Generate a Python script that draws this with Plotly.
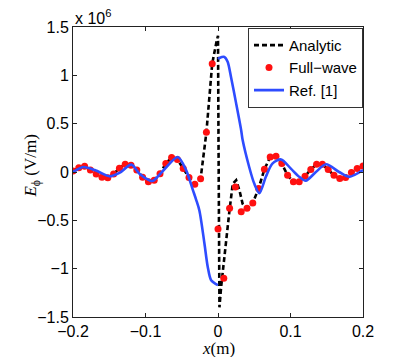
import plotly.graph_objects as go

# E_phi in units of 1e6 V/m, x in m
fw_x = [round(-0.2 + 0.008 * k, 3) for k in range(51)]
fw_y = [0.01, 0.045, 0.06, 0.02, -0.02, -0.055, -0.06, -0.02, 0.04, 0.08,
        0.07, 0.02, -0.055, -0.10, -0.085, -0.017, 0.087, 0.15, 0.13, 0.035,
        -0.058, -0.127, -0.07, 0.41, 1.12, -0.59, -1.10, -0.375, -0.155, -0.41,
        -0.375, -0.32, -0.17, 0.028, 0.155, 0.162, 0.087, -0.034, -0.10, -0.10,
        -0.045, 0.025, 0.08, 0.08, 0.025, -0.034, -0.068, -0.058, -0.006, 0.035,
        0.062]

an_x = fw_x[:25] + [-0.002, 0.0, 0.0008, 0.0015, 0.002, 0.0043, 0.0066, 0.011,
                    0.0158, 0.0204, 0.025, 0.0296, 0.034, 0.039, 0.044] + fw_x[31:]
an_y = fw_y[:25] + [1.35, 1.41, 0.2, -1.1, -1.40, -1.19, -1.02, -0.71,
                    -0.40, -0.12, -0.085, -0.19, -0.33, -0.38, -0.36] + fw_y[31:]

ref_x = [-0.2, -0.1975, -0.186, -0.17, -0.154, -0.149, -0.136, -0.1195, -0.108,
         -0.0945, -0.09, -0.071, -0.0555, -0.044, -0.0345, -0.03, -0.0256, -0.0187,
         -0.0142, -0.0095, -0.0026, 0.0, None,
         0.0, 0.002, 0.0088, 0.0133, 0.018, 0.025, 0.032, 0.034, 0.043, 0.05, 0.057,
         0.066, 0.075, 0.087, 0.1005, 0.112, 0.121, 0.135, 0.149, 0.167, 0.181, 0.2]
ref_y = [0.0, 0.01, 0.052, 0.02, -0.035, -0.045, -0.01, 0.076, -0.02,
         -0.086, -0.093, 0.052, 0.155, 0.02, -0.19, -0.29, -0.40, -0.74,
         -0.98, -1.12, -1.16, -1.17, None,
         1.17, 1.18, 1.19, 1.14, 0.98, 0.71, 0.43, 0.33, 0.052, -0.12, -0.22,
         -0.05, 0.087, 0.13, 0.035, -0.05, -0.09, 0.0, 0.08, 0.0, -0.05, 0.02]

x_ticks = [-0.2, -0.1, 0, 0.1, 0.2]
x_labels = ['\u22120.2', '\u22120.1', '0', '0.1', '0.2']
y_ticks = [-1.5, -1, -0.5, 0, 0.5, 1, 1.5]
y_labels = ['\u22121.5', '\u22121', '\u22120.5', '0', '0.5', '1', '1.5']

sans = 'Liberation Sans, Arial, sans-serif'
serif = 'Liberation Serif, DejaVu Serif, serif'

fig = go.Figure()
fig.add_trace(go.Scatter(x=an_x, y=an_y, mode='lines', name='Analytic',
                         line=dict(color='black', width=2.6, dash='5px,3px')))
fig.add_trace(go.Scatter(x=fw_x, y=fw_y, mode='markers', name='Full\u2212wave',
                         marker=dict(color='#ff1010', size=7)))
fig.add_trace(go.Scatter(x=ref_x, y=ref_y, mode='lines', name='Ref. [1]',
                         line=dict(color='#2e4cff', width=2.6, shape='spline',
                                   smoothing=0.8), connectgaps=False))

axis_style = dict(showgrid=False, zeroline=False, showline=True, linecolor='#222',
                  linewidth=1, mirror='ticks', ticks='inside', ticklen=4,
                  tickcolor='#222', tickfont=dict(family=sans, size=16, color='black'))

fig.update_xaxes(range=[-0.2, 0.2], tickvals=x_ticks, ticktext=x_labels, **axis_style)
fig.update_yaxes(range=[-1.5, 1.5], tickvals=y_ticks, ticktext=y_labels, **axis_style)

fig.update_layout(
    width=415, height=357,
    margin=dict(l=73, r=52, t=27, b=40),
    plot_bgcolor='white', paper_bgcolor='white',
    showlegend=True,
    legend=dict(x=1.0, y=0.997, xanchor='right', yanchor='top',
                bgcolor='white', bordercolor='#333', borderwidth=1,
                font=dict(family=sans, size=15, color='black'),
                itemwidth=30, tracegroupgap=0),
    annotations=[
        dict(text='x 10<sup>6</sup>', x=0.0, y=1.0, xref='paper', yref='paper',
             xanchor='left', yanchor='bottom', showarrow=False, yshift=-2,
             font=dict(family=sans, size=16, color='black')),
        dict(text='<i>x</i>(m)', x=0.5, y=-0.108, xref='paper', yref='paper',
             xanchor='center', yanchor='middle', showarrow=False,
             font=dict(family=serif, size=17, color='black')),
        dict(text='<i>E</i><sub>\u03d5</sub> (V/m)', x=-0.14, y=0.52,
             xref='paper', yref='paper', xanchor='center', yanchor='middle',
             textangle=-90, showarrow=False,
             font=dict(family=serif, size=17, color='black')),
    ],
)

# browser default body margin would shift the figure by 8px
fig.write_html("out.html", config={'displayModeBar': False},
               post_script="document.body.style.margin='0';")
